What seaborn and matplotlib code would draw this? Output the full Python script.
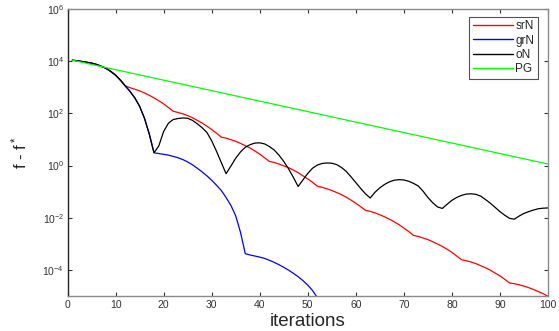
import numpy as np
import pandas as pd
import matplotlib
matplotlib.use("Agg")
import matplotlib.pyplot as plt
import seaborn as sns

# ---- data (log10 of f - f*) ----
common_head = [4.03, 4.01, 3.98, 3.95, 3.92, 3.87, 3.80, 3.72, 3.60, 3.46,
               3.27, 3.05, 2.84, 2.59, 2.27, 1.82, 1.22, 0.49]  # iterations 1..18

srN_tail = [2.98, 2.92, 2.86, 2.78, 2.69, 2.59, 2.48, 2.36, 2.22, 2.08,   # 13..22
            2.03, 1.98, 1.91, 1.83, 1.73, 1.63, 1.51, 1.38, 1.24, 1.09,   # 23..32
            1.05, 0.99, 0.93, 0.85, 0.76, 0.67, 0.56, 0.44, 0.30, 0.16,   # 33..42
            0.12, 0.06, -0.01, -0.08, -0.17, -0.27, -0.39, -0.51, -0.64, -0.79,
            -0.83, -0.89, -0.95, -1.03, -1.11, -1.21, -1.32, -1.44, -1.57, -1.71,
            -1.75, -1.81, -1.88, -1.96, -2.05, -2.15, -2.26, -2.39, -2.52, -2.67,
            -2.71, -2.77, -2.83, -2.91, -3.00, -3.09, -3.20, -3.32, -3.46, -3.60,
            -3.64, -3.69, -3.75, -3.83, -3.91, -4.00, -4.11, -4.22, -4.35, -4.49,
            -4.52, -4.56, -4.61, -4.67, -4.74, -4.82, -4.90, -5.00]          # 93..100

grN_tail = [0.46, 0.43, 0.40, 0.35, 0.30, 0.23, 0.14, 0.03, -0.10, -0.24,  # 19..28
            -0.39, -0.56, -0.75, -0.95, -1.22, -1.52, -1.92, -2.55, -3.37, -3.42,
            -3.46, -3.50, -3.55, -3.62, -3.70, -3.79, -3.89, -4.00, -4.12, -4.25,
            -4.40, -4.57, -4.78, -5.05]                                     # ..52

oN_tail = [0.75, 1.30, 1.62, 1.76, 1.80, 1.82, 1.81, 1.73, 1.60, 1.45,     # 19..28
           1.27, 0.95, 0.55, 0.12, -0.31, -0.02, 0.28, 0.52, 0.70, 0.80,
           0.86, 0.87, 0.83, 0.73, 0.60, 0.40, 0.16, -0.12, -0.45, -0.80,
           -0.55, -0.30, -0.10, 0.02, 0.08, 0.10, 0.09, 0.04, -0.07, -0.22,
           -0.43, -0.65, -0.87, -1.08, -1.24, -1.02, -0.85, -0.72, -0.62, -0.56,
           -0.54, -0.55, -0.60, -0.68, -0.78, -0.98, -1.22, -1.42, -1.58, -1.64,
           -1.48, -1.33, -1.22, -1.14, -1.09, -1.08, -1.10, -1.17, -1.30, -1.44,
           -1.60, -1.76, -1.90, -2.02, -2.05, -1.93, -1.83, -1.76, -1.70, -1.65,
           -1.63, -1.62]                                                    # ..100

pg_iters = [1, 100]
pg_log10 = [4.03, 0.06]

series_names = ["srN", "grN", "oN", "PG"]
series_colors = ["#ff0000", "#0000ff", "#000000", "#00ff00"]
x_ticks = [0, 10, 20, 30, 40, 50, 60, 70, 80, 90, 100]
y_ticks = [1e-4, 1e-2, 1e0, 1e2, 1e4, 1e6]

# ---- build long table ----
srN = common_head[:12] + srN_tail
grN = common_head + grN_tail
oN = common_head + oN_tail
rows = []
for name, vals in [("srN", srN), ("grN", grN), ("oN", oN)]:
    for i, v in enumerate(vals):
        rows.append((name, i + 1, 10 ** v))
for it, v in zip(pg_iters, pg_log10):
    rows.append(("PG", it, 10 ** v))
df = pd.DataFrame(rows, columns=["method", "iteration", "gap"])

sns.set_style("ticks")
plt.rcParams["font.family"] = ["Liberation Sans", "DejaVu Sans"]
plt.rcParams["mathtext.fontset"] = "custom"
plt.rcParams["mathtext.rm"] = "Liberation Sans"
plt.rcParams["mathtext.it"] = "Liberation Sans:italic"

fig = plt.figure(figsize=(5.59, 3.31), dpi=100)
ax = fig.add_axes([67.5 / 559, 1 - 296.3 / 331, 480.5 / 559, 287.6 / 331])

sns.lineplot(data=df, x="iteration", y="gap", hue="method",
             hue_order=series_names, palette=dict(zip(series_names, series_colors)),
             linewidth=0.9, ax=ax, estimator=None, sort=True)

ax.set_yscale("log")
ax.set_xlim(0, 100)
ax.set_ylim(1e-5, 1e6)
ax.set_xticks(x_ticks)
ax.set_yticks(y_ticks)
ax.minorticks_off()
ax.tick_params(axis="both", which="both", direction="in", length=3, width=0.8,
               top=True, right=True, labelsize=7.5, colors="#333333", pad=3)
ax.tick_params(axis="y", pad=2.5)

for side in ["top", "right", "bottom"]:
    ax.spines[side].set_color("#8a8a8a")
    ax.spines[side].set_linewidth(1.0)
ax.spines["left"].set_color("#262626")
ax.spines["left"].set_linewidth(1.0)

ax.set_xlabel("iterations", fontsize=13.5, color="#262626", labelpad=2)
ax.set_ylabel("f - f$^*$", fontsize=12, color="#262626", labelpad=9)

leg = ax.legend(loc="upper right", bbox_to_anchor=(1 - 10 / 480.5, 1 - 8 / 287.6),
                fontsize=8.5, frameon=True, fancybox=False, handlelength=3.4,
                handletextpad=0.2, labelspacing=0.2, borderpad=0.3,
                borderaxespad=0)
leg.get_frame().set_edgecolor("#262626")
leg.get_frame().set_linewidth(0.8)
for line in leg.get_lines():
    line.set_linewidth(1.0)

fig.savefig("out.png", dpi=100)
